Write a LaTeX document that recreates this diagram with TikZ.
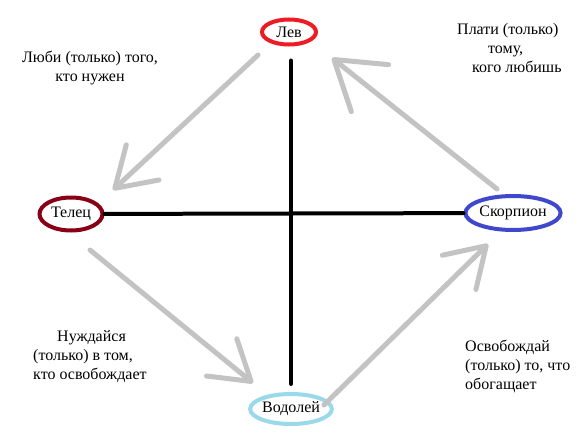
\documentclass[tikz,border=0pt]{standalone}
\usepackage{fontspec}
\setmainfont{Liberation Serif}
\usetikzlibrary{shapes.geometric,arrows.meta}
\definecolor{cred}{RGB}{237,28,36}
\definecolor{cdred}{RGB}{136,0,21}
\definecolor{cblue}{RGB}{63,72,204}
\definecolor{clblue}{RGB}{153,217,234}
\definecolor{cgray}{RGB}{195,195,195}
\begin{document}
\begin{tikzpicture}[x=1pt,y=-1pt,
  every node/.style={font=\fontsize{16}{19}\selectfont},
  sign/.style={ellipse,draw,line width=4pt,inner sep=0pt,fill=white},
  lbl/.style={inner sep=0pt},
  crossline/.style={line width=4pt,black,line cap=round},
  arr/.style={line width=5pt,cgray,line cap=round,
    -{Straight Barb[length=38pt,width=48pt,line cap=round,line join=round]}},
  bigarr/.style={line width=5pt,cgray,line cap=round,
    -{Straight Barb[length=46pt,width=60pt,line cap=round,line join=round]}}]
\useasboundingbox[fill=white] (0,0) rectangle (585,441);

\node[sign,draw=cred,minimum width=54pt,minimum height=25pt] (lev) at (289,32) {Лев};
\node[sign,draw=cdred,minimum width=63pt,minimum height=33pt] (telec) at (71,214) {Телец};
\node[sign,draw=cblue,minimum width=77pt,minimum height=34pt] (skorp) at (513,213) {Скорпион};
\node[sign,draw=clblue,minimum width=78pt,minimum height=30pt] (vod) at (291,409) {Водолей};

\draw[crossline] (telec) -- (skorp);
\draw[crossline,shorten <=14pt,shorten >=8pt] (lev.south -| vod) -- (vod.north);

\draw[arr] ([shift={(-31,23)}]lev.center) -- ([shift={(42,-24)}]telec.center);
\draw[bigarr] ([shift={(-16,-24)}]skorp.center) -- ([shift={(43,26)}]lev.center);
\draw[arr] ([shift={(19,36)}]telec.center) -- ([shift={(-38,-26)}]vod.center);
\draw[arr] ([shift={(33,-4)}]vod.center) -- ([shift={(-25,31)}]skorp.center);

\node[lbl,align=center] (t1) at (90,68) {Люби (только) того,\\кто нужен};
\node[lbl,align=left,anchor=west] (t2) at (457,48) {Плати (только)\\\hspace*{31pt}тому,\\\hspace*{15pt}кого любишь};
\node[lbl,align=left,anchor=west] (t3) at (33,357) {\hspace*{24pt}Нуждайся\\(только) в том,\\кто освобождает};
\node[lbl,align=left,anchor=west] (t4) at (465,366) {Освобождай\\(только) то, что\\обогащает};
\end{tikzpicture}
\end{document}
